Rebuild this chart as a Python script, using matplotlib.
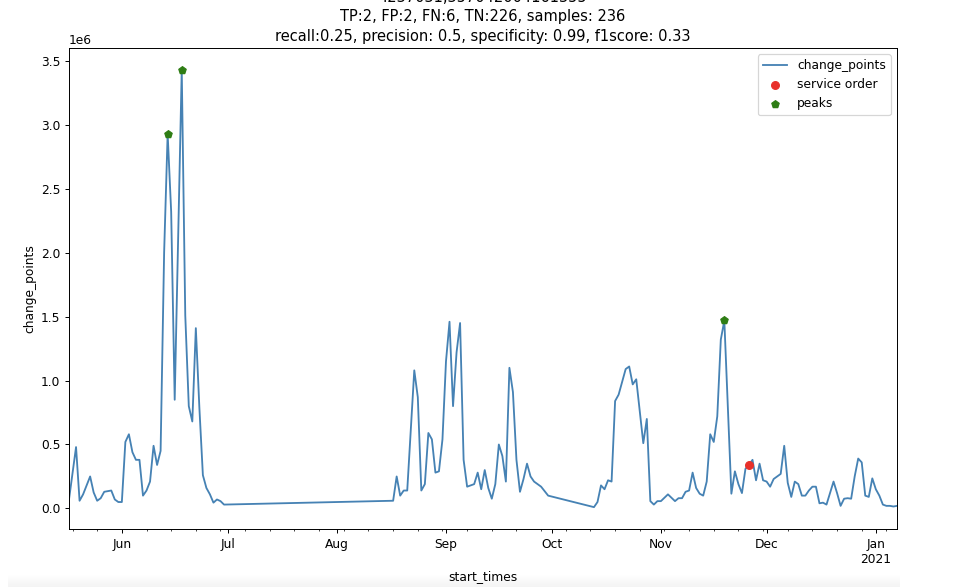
import numpy as np
import pandas as pd
import matplotlib
matplotlib.use("Agg")
import matplotlib.pyplot as plt
import matplotlib.dates as mdates
from matplotlib.ticker import FuncFormatter, NullFormatter

# title of the original notebook cell (first line is cut off at the top)
title_lines = [
    "4237031,357042004161355",
    "TP:2, FP:2, FN:6, TN:226, samples: 236",
    "recall:0.25, precision: 0.5, specificity: 0.99, f1score: 0.33",
]

# daily values, in millions
start_times = [
    "2020-05-17", "2020-05-19", "2020-05-20", "2020-05-21", "2020-05-23", "2020-05-24",
    "2020-05-25", "2020-05-26", "2020-05-27", "2020-05-29", "2020-05-30", "2020-05-31",
    "2020-06-01", "2020-06-02", "2020-06-03", "2020-06-04", "2020-06-05", "2020-06-06",
    "2020-06-07", "2020-06-08", "2020-06-09", "2020-06-10", "2020-06-11", "2020-06-12",
    "2020-06-13", "2020-06-14", "2020-06-15", "2020-06-16", "2020-06-18", "2020-06-19",
    "2020-06-20", "2020-06-21", "2020-06-22", "2020-06-23", "2020-06-24", "2020-06-25",
    "2020-06-26", "2020-06-27", "2020-06-28", "2020-06-29", "2020-06-30",
    "2020-08-17", "2020-08-18", "2020-08-19", "2020-08-20", "2020-08-21", "2020-08-23",
    "2020-08-24", "2020-08-25", "2020-08-26", "2020-08-27", "2020-08-28", "2020-08-29",
    "2020-08-30", "2020-08-31", "2020-09-01", "2020-09-02", "2020-09-03", "2020-09-04",
    "2020-09-05", "2020-09-06", "2020-09-07", "2020-09-09", "2020-09-10", "2020-09-11",
    "2020-09-12", "2020-09-13", "2020-09-14", "2020-09-15", "2020-09-16", "2020-09-17",
    "2020-09-18", "2020-09-19", "2020-09-20", "2020-09-21", "2020-09-22", "2020-09-23",
    "2020-09-24", "2020-09-25", "2020-09-26", "2020-09-28", "2020-09-30",
    "2020-10-13", "2020-10-14", "2020-10-15", "2020-10-16", "2020-10-17", "2020-10-18",
    "2020-10-19", "2020-10-20", "2020-10-22", "2020-10-23", "2020-10-24", "2020-10-25",
    "2020-10-27", "2020-10-28", "2020-10-29", "2020-10-30", "2020-10-31", "2020-11-01",
    "2020-11-03", "2020-11-05", "2020-11-06", "2020-11-07", "2020-11-08", "2020-11-09",
    "2020-11-10", "2020-11-11", "2020-11-12", "2020-11-13", "2020-11-14", "2020-11-15",
    "2020-11-16", "2020-11-17", "2020-11-18", "2020-11-19", "2020-11-21", "2020-11-22",
    "2020-11-23", "2020-11-24", "2020-11-25", "2020-11-26", "2020-11-27", "2020-11-28",
    "2020-11-29", "2020-11-30", "2020-12-01", "2020-12-02", "2020-12-03", "2020-12-04",
    "2020-12-05", "2020-12-06", "2020-12-07", "2020-12-08", "2020-12-09", "2020-12-10",
    "2020-12-11", "2020-12-12", "2020-12-13", "2020-12-14", "2020-12-15", "2020-12-16",
    "2020-12-17", "2020-12-18", "2020-12-20", "2020-12-21", "2020-12-22", "2020-12-23",
    "2020-12-24", "2020-12-25", "2020-12-26", "2020-12-27", "2020-12-28", "2020-12-29",
    "2020-12-30", "2020-12-31", "2021-01-01", "2021-01-02", "2021-01-03", "2021-01-04",
    "2021-01-05", "2021-01-06", "2021-01-07",
]
change_points = [
    0.07, 0.48, 0.06, 0.11, 0.25, 0.125,
    0.06, 0.08, 0.13, 0.14, 0.07, 0.05,
    0.05, 0.52, 0.58, 0.44, 0.38, 0.38,
    0.10, 0.14, 0.21, 0.49, 0.34, 0.45,
    2.00, 2.93, 2.32, 0.85, 3.43, 1.51,
    0.80, 0.68, 1.41, 0.79, 0.26, 0.16,
    0.11, 0.045, 0.07, 0.057, 0.03,
    0.06, 0.25, 0.10, 0.14, 0.14, 1.08,
    0.87, 0.14, 0.19, 0.59, 0.54, 0.28,
    0.29, 0.54, 1.15, 1.46, 0.80, 1.22,
    1.45, 0.38, 0.17, 0.19, 0.28, 0.15,
    0.30, 0.16, 0.076, 0.19, 0.50, 0.41,
    0.21, 1.10, 0.91, 0.38, 0.13, 0.23,
    0.35, 0.25, 0.21, 0.17, 0.10,
    0.01, 0.05, 0.18, 0.15, 0.22, 0.21,
    0.84, 0.89, 1.09, 1.11, 0.97, 1.01,
    0.51, 0.70, 0.057, 0.03, 0.057, 0.057,
    0.11, 0.057, 0.08, 0.08, 0.13, 0.14,
    0.28, 0.16, 0.115, 0.10, 0.21, 0.58,
    0.52, 0.72, 1.32, 1.47, 0.115, 0.29,
    0.19, 0.12, 0.31, 0.34, 0.38, 0.22,
    0.35, 0.22, 0.21, 0.17, 0.23, 0.25,
    0.27, 0.49, 0.20, 0.09, 0.21, 0.19,
    0.10, 0.10, 0.14, 0.17, 0.17, 0.04,
    0.045, 0.03, 0.21, 0.12, 0.02, 0.076,
    0.08, 0.076, 0.25, 0.39, 0.36, 0.10,
    0.09, 0.235, 0.15, 0.10, 0.03, 0.02,
    0.02, 0.015, 0.02,
]

service_order_times = ["2020-11-26"]
peak_times = ["2020-06-14", "2020-06-18", "2020-11-19"]

series = pd.Series(np.array(change_points) * 1e6, index=pd.to_datetime(start_times))
service_order = series.loc[pd.to_datetime(service_order_times)]
peaks = series.loc[pd.to_datetime(peak_times)]

DPI = 88
fig = plt.figure(figsize=(953 / DPI, 587 / DPI), dpi=DPI)
ax = fig.add_axes([0.0724, 0.0988, 0.8688, 0.8194])

ax.plot(series.index, series.values, color="steelblue", label="change_points")
ax.scatter(service_order.index, service_order.values, color="#e8302a", s=40,
           label="service order", zorder=3)
ax.scatter(peaks.index, peaks.values, color="#2e7d14", marker="p", s=40,
           label="peaks", zorder=3)

ax.set_xlim(series.index[0], series.index[-1])

# month ticks like pandas' time series axis, weekly minor ticks
def month_label(x, pos):
    d = mdates.num2date(x)
    if d.month == 1:
        return d.strftime("%b\n%Y")
    return d.strftime("%b")

ax.xaxis.set_major_locator(mdates.MonthLocator())
ax.xaxis.set_major_formatter(FuncFormatter(month_label))
ax.xaxis.set_minor_locator(mdates.WeekdayLocator(byweekday=mdates.MO))
ax.xaxis.set_minor_formatter(NullFormatter())

ax.set_xlabel("start_times")
ax.set_ylabel("change_points")
ax.set_title("\n".join(title_lines), linespacing=1.36)
ax.legend(loc="upper right")

# light grey band at the very bottom of the screenshot
band = fig.add_axes([8 / 953, 0, 892 / 953, 13 / 587], zorder=-1)
band.imshow(np.linspace(1.0, 0.955, 20).reshape(-1, 1), cmap="gray", vmin=0, vmax=1,
            aspect="auto", extent=(0, 1, 0, 1))
band.axis("off")

fig.savefig("out.png", dpi=DPI)
